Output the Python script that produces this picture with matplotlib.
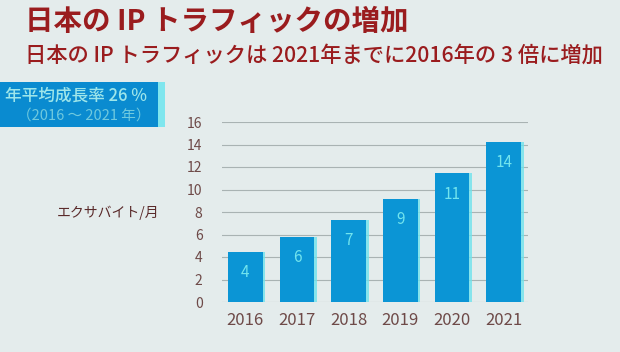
import matplotlib
matplotlib.use("Agg")
import matplotlib.pyplot as plt
import matplotlib.patheffects as pe
from matplotlib.patches import Rectangle

plt.rcParams['font.family'] = ['Noto Sans CJK JP', 'DejaVu Sans']

years = ["2016", "2017", "2018", "2019", "2020", "2021"]
traffic = [4.47, 5.78, 7.32, 9.18, 11.43, 14.22]
bar_labels = ["4", "6", "7", "9", "11", "14"]
yticks = [0, 2, 4, 6, 8, 10, 12, 14, 16]

title = "日本の IP トラフィックの増加"
subtitle = "日本の IP トラフィックは 2021年までに2016年の 3 倍に増加"
cagr_line1 = "年平均成長率 26 %"
cagr_line2 = "（2016 ～ 2021 年）"
ylabel = "エクサバイト/月"

bg = "#e4ecec"
red = "#9a1c1e"
bar_col = "#0b95d5"
label_col = "#72e4ee"
tick_col = "#6e4a48"

W, H = 620, 352
fig = plt.figure(figsize=(W / 100, H / 100), dpi=100, facecolor=bg)

# Title texts
fig.text(25 / W, 1 - 22 / H, title, color=red, fontsize=20.5, fontweight="bold",
         ha="left", va="center")
fig.text(25 / W, 1 - 56 / H, subtitle, color=red, fontsize=15.3, fontweight="medium",
         ha="left", va="center")

# CAGR box
glow = Rectangle((0, 1 - 127 / H), 165 / W, 45 / H, transform=fig.transFigure,
                 facecolor="#7fe6ee", edgecolor="none", zorder=1)
fig.patches.append(glow)
box = Rectangle((0, 1 - 127 / H), 158 / W, 45 / H, transform=fig.transFigure,
                facecolor="#0a8bd0", edgecolor="none", zorder=2)
fig.patches.append(box)
fig.text(76 / W, 1 - 96 / H, cagr_line1, color="#9ee6ea", fontsize=12, fontweight="medium",
         ha="center", va="center", zorder=3)
fig.text(84 / W, 1 - 116 / H, cagr_line2, color="#6fc9de", fontsize=10.5,
         ha="center", va="center", zorder=3)

# Y label
fig.text(108 / W, 1 - 213 / H, ylabel, color="#5a2a2a", fontsize=10,
         ha="center", va="center")

ax = fig.add_axes([222 / W, 1 - 302 / H, (528 - 222) / W, (302 - 122) / H])
ax.set_facecolor("none")
x = list(range(len(years)))
bars = ax.bar(x, traffic, width=0.67, color=bar_col, zorder=3)
for b in bars:
    b.set_path_effects([pe.SimplePatchShadow(offset=(2, 0), shadow_rgbFace="#6fe3ec", alpha=0.8),
                        pe.Normal()])
for xi, v, lab in zip(x, traffic, bar_labels):
    ax.annotate(lab, (xi, v), xytext=(0, -15), textcoords="offset points",
                ha="center", va="center", color=label_col, fontsize=11, zorder=4)

ax.set_xlim(-0.45, 5.47)
ax.set_ylim(0, 16)
ax.set_yticks(yticks)
ax.set_yticklabels([str(t) for t in yticks])
ax.set_xticks(x)
ax.set_xticklabels(years)
ax.yaxis.grid(True, color="#a9b3b3", linewidth=0.8, zorder=0)
ax.set_axisbelow(True)
for s in ax.spines.values():
    s.set_visible(False)
ax.tick_params(axis="y", length=0, pad=14, labelsize=10, labelcolor=tick_col)
ax.tick_params(axis="x", length=0, pad=7, labelsize=12, labelcolor=tick_col)

fig.savefig("out.png", dpi=100, facecolor=bg)
